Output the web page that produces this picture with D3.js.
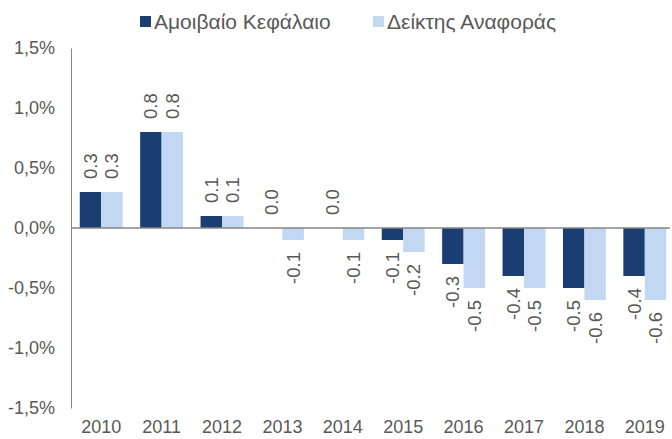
<!DOCTYPE html>
<html>
<head>
<meta charset="utf-8">
<script src="https://cdn.jsdelivr.net/npm/d3@7"></script>
<style>
  body { margin: 0; background: #fff; }
  text { font-family: "Liberation Sans", Arial, sans-serif; }
</style>
</head>
<body>
<div id="chart"></div>
<script>
// data
const years = ["2010", "2011", "2012", "2013", "2014", "2015", "2016", "2017", "2018", "2019"];
const fund = [0.3, 0.8, 0.1, 0.0, 0.0, -0.1, -0.3, -0.4, -0.5, -0.4];
const benchmark = [0.3, 0.8, 0.1, -0.1, -0.1, -0.2, -0.5, -0.5, -0.6, -0.6];
const seriesNames = ["Αμοιβαίο Κεφάλαιο", "Δείκτης Αναφοράς"];
const yTicks = [-1.5, -1.0, -0.5, 0.0, 0.5, 1.0, 1.5];

const colors = ["#1a3e72", "#c2d7f1"];
const textColor = "#595959";

const width = 672, height = 439;
const margin = {top: 48, right: -3, bottom: 31, left: 71};

const svg = d3.select("#chart")
  .append("svg")
    .attr("width", width)
    .attr("height", height);

const x = d3.scaleBand()
  .domain(years)
  .range([margin.left, width - margin.right])
  .paddingInner(0.29)
  .paddingOuter(0.145);

const xs = d3.scaleBand()
  .domain([0, 1])
  .range([0, x.bandwidth()]);

const y = d3.scaleLinear()
  .domain([-1.5, 1.5])
  .range([height - margin.bottom, margin.top]);

// plain hyphen for the minus sign, comma as decimal mark on the axis
const fmt = v => v.toFixed(1).replace(".", ",") + "%";

// y axis
const yAxis = svg.append("g")
  .attr("transform", `translate(${margin.left},0)`)
  .call(d3.axisLeft(y).tickValues(yTicks).tickFormat(fmt).tickSize(0).tickPadding(16));
yAxis.select(".domain").attr("stroke", "#868686");
yAxis.selectAll("text")
  .attr("fill", textColor)
  .attr("font-size", "18px")
  .attr("font-family", "Liberation Sans, Arial, sans-serif");

// x labels along the bottom
const xAxis = svg.append("g")
  .attr("transform", `translate(0,${height - margin.bottom})`)
  .call(d3.axisBottom(x).tickSize(0).tickPadding(12));
xAxis.select(".domain").remove();
xAxis.selectAll("text")
  .attr("fill", textColor)
  .attr("font-size", "18px")
  .attr("font-family", "Liberation Sans, Arial, sans-serif");

const rows = years.map((yr, i) => ({year: yr, values: [fund[i], benchmark[i]]}));

const groups = svg.append("g")
  .selectAll("g")
  .data(rows)
  .join("g")
    .attr("transform", d => `translate(${x(d.year)},0)`);

groups.selectAll("rect")
  .data(d => d.values.map((v, k) => ({v, k})))
  .join("rect")
    .attr("x", d => xs(d.k))
    .attr("width", xs.bandwidth())
    .attr("y", d => y(Math.max(0, d.v)))
    .attr("height", d => Math.abs(y(d.v) - y(0)))
    .attr("fill", d => colors[d.k]);

// rotated value labels
groups.selectAll("text")
  .data(d => d.values.map((v, k) => ({v, k})))
  .join("text")
    .attr("transform", d => {
      const cx = xs(d.k) + xs.bandwidth() / 2;
      const cy = d.v >= 0 ? y(d.v) - 13 : y(d.v) + 12;
      return `translate(${cx},${cy}) rotate(-90)`;
    })
    .attr("text-anchor", d => d.v >= 0 ? "start" : "end")
    .attr("dy", "0.35em")
    .attr("fill", textColor)
    .attr("font-size", "18.5px")
    .text(d => d.v.toFixed(1));

// zero line
svg.append("line")
  .attr("x1", margin.left)
  .attr("x2", 670)
  .attr("y1", y(0))
  .attr("y2", y(0))
  .attr("stroke", "#868686")
  .attr("stroke-width", 1.5);

// legend
const legendX = [140, 373];
const legend = svg.append("g")
  .selectAll("g")
  .data(seriesNames)
  .join("g")
    .attr("transform", (d, i) => `translate(${legendX[i]},22)`);
legend.append("rect")
  .attr("x", 0)
  .attr("y", -6)
  .attr("width", 11)
  .attr("height", 11)
  .attr("fill", (d, i) => colors[i]);
legend.append("text")
  .attr("x", 14)
  .attr("dy", "0.35em")
  .attr("fill", textColor)
  .attr("font-size", "21px")
  .text(d => d);
</script>
</body>
</html>
